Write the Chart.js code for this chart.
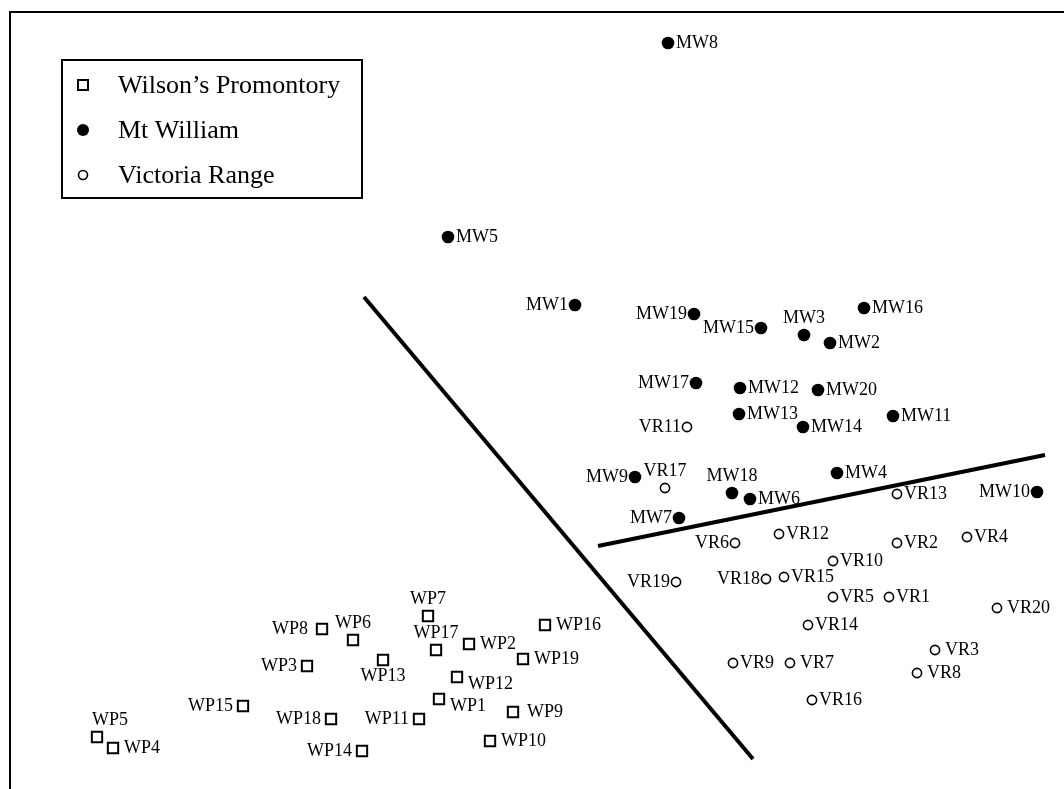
<!DOCTYPE html>
<html>
<head>
<meta charset="utf-8">
<script src="https://cdn.jsdelivr.net/npm/chart.js@4/dist/chart.umd.min.js"></script>
<style>
  body { margin: 0; background: #fff; }
</style>
</head>
<body>
<canvas id="ordination" width="1064" height="789"></canvas>
<script>
// ordination scores (axis 1, axis 2)
const WP_NAMES = ['WP1', 'WP2', 'WP3', 'WP4', 'WP5', 'WP6', 'WP7', 'WP8', 'WP9', 'WP10',
  'WP11', 'WP12', 'WP13', 'WP14', 'WP15', 'WP16', 'WP17', 'WP18', 'WP19'];
const WP_X = [-0.91, -0.61, -2.23, -4.17, -4.33, -1.77, -1.02, -2.08, -0.17, -0.40,
  -1.11, -0.73, -1.47, -1.68, -2.87, 0.15, -0.94, -1.99, -0.07];
const WP_Y = [-2.99, -2.44, -2.66, -3.48, -3.37, -2.40, -2.16, -2.29, -3.12, -3.41,
  -3.19, -2.77, -2.60, -3.51, -3.06, -2.25, -2.50, -3.19, -2.59];

const MW_NAMES = ['MW1', 'MW2', 'MW3', 'MW4', 'MW5', 'MW6', 'MW7', 'MW8', 'MW9', 'MW10',
  'MW11', 'MW12', 'MW13', 'MW14', 'MW15', 'MW16', 'MW17', 'MW18', 'MW19', 'MW20'];
const MW_X = [0.45, 3.00, 2.74, 3.07, -0.82, 2.20, 1.49, 1.38, 1.05, 5.07,
  3.63, 2.10, 2.09, 2.73, 2.31, 3.34, 1.66, 2.02, 1.64, 2.88];
const MW_Y = [0.95, 0.57, 0.65, -0.73, 1.63, -0.99, -1.18, 3.57, -0.77, -0.92,
  -0.16, 0.12, -0.14, -0.27, 0.72, 0.92, 0.17, -0.93, 0.86, 0.10];

const VR_NAMES = ['VR1', 'VR2', 'VR3', 'VR4', 'VR5', 'VR6', 'VR7', 'VR8', 'VR9', 'VR10',
  'VR11', 'VR12', 'VR13', 'VR14', 'VR15', 'VR16', 'VR17', 'VR18', 'VR19', 'VR20'];
const VR_X = [3.59, 3.67, 4.05, 4.37, 3.03, 2.05, 2.60, 3.87, 2.03, 3.03,
  1.57, 2.49, 3.67, 2.78, 2.54, 2.82, 1.35, 2.36, 1.46, 4.67];
const VR_Y = [-1.97, -1.43, -2.50, -1.37, -1.97, -1.43, -2.63, -2.73, -2.63, -1.61,
  -0.27, -1.34, -0.94, -2.25, -1.77, -3.00, -0.88, -1.79, -1.82, -2.08];

// the two hand-drawn separating lines (end points)
const SPLIT_WP = [{ x: -1.66, y: 1.03 }, { x: 2.23, y: -3.59 }];
const SPLIT_MW_VR = [{ x: 0.68, y: -1.46 }, { x: 5.15, y: -0.55 }];

const SERIES = ["Wilson\u2019s Promontory", 'Mt William', 'Victoria Range'];

// where each label sits relative to its point (default: right)
const LABEL_SIDE = {
  MW1: 'l', MW19: 'l', MW15: 'l', MW3: 't', MW17: 'l', MW9: 'l', MW18: 't', MW7: 'l', MW10: 'l',
  VR11: 'l', VR17: 't', VR6: 'l', VR19: 'l', VR18: 'l',
  VR20: 'rs', VR3: 'rs', VR8: 'rs', VR7: 'rs',
  WP7: 't', WP8: 'ls', WP6: 't', WP17: 't', WP3: 'l', WP13: 'b', WP12: 'br', WP15: 'l',
  WP1: 'br', WP18: 'l', WP11: 'l', WP5: 'tl', WP14: 'l', WP9: 'rs'
};

const zip = (xs, ys) => xs.map((x, i) => ({ x, y: ys[i] }));
const SERIF = '"Liberation Serif", "Times New Roman", serif';

const frame = {
  id: 'frame',
  beforeDraw(chart) {
    const { ctx, chartArea: a } = chart;
    ctx.save();
    ctx.strokeStyle = '#000';
    ctx.lineWidth = 2;
    ctx.beginPath();
    ctx.moveTo(a.left, a.bottom);
    ctx.lineTo(a.left, a.top);
    ctx.lineTo(a.right, a.top);
    ctx.stroke();
    ctx.restore();
  }
};

const pointLabels = {
  id: 'pointLabels',
  afterDatasetsDraw(chart) {
    const ctx = chart.ctx;
    ctx.save();
    ctx.font = '18px ' + SERIF;
    ctx.fillStyle = '#000';
    ctx.textBaseline = 'middle';
    chart.data.datasets.forEach((ds, i) => {
      if (!ds.names) return;
      const gap = ds.labelGap;
      chart.getDatasetMeta(i).data.forEach((pt, j) => {
        const name = ds.names[j];
        const side = LABEL_SIDE[name] || 'r';
        let x = pt.x, y = pt.y;
        ctx.textAlign = 'left';
        if (side === 'r') x += gap.r;
        else if (side === 'rs') x += gap.r + 3;
        else if (side === 'l') { ctx.textAlign = 'right'; x -= gap.l; }
        else if (side === 'ls') { ctx.textAlign = 'right'; x -= gap.l + 4; }
        else if (side === 't') { ctx.textAlign = 'center'; y -= 17; }
        else if (side === 'tl') { x -= 5; y -= 17; }
        else if (side === 'b') { ctx.textAlign = 'center'; y += 16; }
        else if (side === 'br') { x += gap.r; y += 7; }
        ctx.fillText(name, x, y);
      });
    });
    ctx.restore();
  }
};

// boxed legend in the upper left corner
const boxLegend = {
  id: 'boxLegend',
  afterDraw(chart) {
    const ctx = chart.ctx;
    ctx.save();
    ctx.strokeStyle = '#000';
    ctx.lineWidth = 2;
    ctx.strokeRect(62, 60, 300, 138);
    ctx.font = '26px ' + SERIF;
    ctx.fillStyle = '#000';
    ctx.textBaseline = 'middle';
    ctx.textAlign = 'left';
    chart.data.datasets.filter(ds => ds.names).forEach((ds, i) => {
      const y = 85 + i * 45;
      ctx.fillStyle = ds.backgroundColor;
      ctx.strokeStyle = ds.borderColor;
      ctx.lineWidth = ds.borderWidth;
      ctx.beginPath();
      if (ds.pointStyle === 'rect') ctx.rect(78, y - 5, 10, 10);
      else ctx.arc(83, y, ds.borderWidth ? 4.5 : 6, 0, Math.PI * 2);
      ctx.fill();
      if (ds.borderWidth) ctx.stroke();
      ctx.fillStyle = '#000';
      ctx.fillText(ds.label, 118, y + 1);
    });
    ctx.restore();
  }
};

const splitLine = (data) => ({
  type: 'line',
  data,
  borderColor: '#000',
  borderWidth: 4,
  pointRadius: 0,
  fill: false
});

new Chart(document.getElementById('ordination'), {
  type: 'scatter',
  data: {
    datasets: [
      {
        label: SERIES[0],
        names: WP_NAMES,
        data: zip(WP_X, WP_Y),
        pointStyle: 'rect',
        pointRadius: 7.3,
        borderWidth: 2,
        borderColor: '#000',
        backgroundColor: '#fff',
        labelGap: { r: 11, l: 10 }
      },
      {
        label: SERIES[1],
        names: MW_NAMES,
        data: zip(MW_X, MW_Y),
        pointStyle: 'circle',
        pointRadius: 6.3,
        borderWidth: 0,
        borderColor: '#000',
        backgroundColor: '#000',
        labelGap: { r: 8, l: 7 }
      },
      {
        label: SERIES[2],
        names: VR_NAMES,
        data: zip(VR_X, VR_Y),
        pointStyle: 'circle',
        pointRadius: 4.6,
        borderWidth: 1.6,
        borderColor: '#000',
        backgroundColor: '#fff',
        labelGap: { r: 7, l: 6 }
      },
      splitLine(SPLIT_WP),
      splitLine(SPLIT_MW_VR)
    ]
  },
  options: {
    responsive: false,
    animation: false,
    events: [],
    layout: { autoPadding: false, padding: { left: 10, top: 12, right: 0, bottom: 0 } },
    scales: {
      x: { type: 'linear', min: -5.2, max: 5.34, display: false },
      y: { type: 'linear', min: -3.89, max: 3.88, display: false }
    },
    plugins: {
      legend: { display: false },
      tooltip: { enabled: false }
    }
  },
  plugins: [frame, pointLabels, boxLegend]
});
</script>
</body>
</html>
